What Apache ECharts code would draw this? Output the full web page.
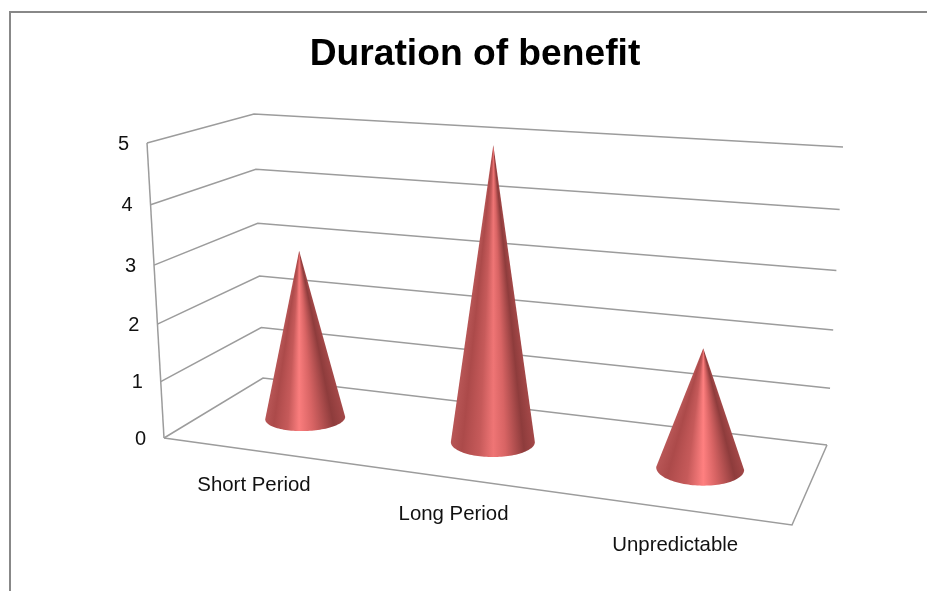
<!DOCTYPE html>
<html>
<head>
<meta charset="utf-8">
<style>html,body{margin:0;padding:0;background:#fff;overflow:hidden}#chart{width:927px;height:591px}</style>
<script src="https://cdn.jsdelivr.net/npm/echarts@6/dist/echarts.min.js"></script>
</head>
<body>
<div id="chart"></div>
<script>
// Chart contents
const categories = ['Short Period', 'Long Period', 'Unpredictable'];
const durationValues = [3, 5, 2];
const valueTicks = [0, 1, 2, 3, 4, 5];
const chartTitle = 'Duration of benefit';

// Box corners on screen: floor and top plane, as [front-left, front-right, back-right, back-left]
const floorQuad = [[164, 438], [792, 525], [827, 445], [263, 378]];
const topQuad = [[147, 143], [810, 186], [843, 147], [254, 114]];
const heightBias = 1.06;
const lineColor = '#9c9c9c';
const fontFamily = '"Liberation Sans", Arial, sans-serif';
// Cone surface shading across its width; the middle stop sits under the tip
const coneStops = [
  [0.00, '#b85656'], [0.14, '#ac4a4a'], [0.34, '#c65a5a'], [0.50, '#ff8080'],
  [0.64, '#d86464'], [0.86, '#8e3c3c'], [1.00, '#a44848']
];
const coneGlow = [0.92, 0.72, 1.0];

// Projective map from the unit square onto a quadrilateral
function quadMap(q) {
  const [[x0, y0], [x1, y1], [x2, y2], [x3, y3]] = q;
  const dx1 = x1 - x2, dx2 = x3 - x2, sx = x0 - x1 + x2 - x3;
  const dy1 = y1 - y2, dy2 = y3 - y2, sy = y0 - y1 + y2 - y3;
  const det = dx1 * dy2 - dx2 * dy1;
  const g = (sx * dy2 - dx2 * sy) / det;
  const h = (dx1 * sy - sx * dy1) / det;
  const a = x1 - x0 + g * x1, b = x3 - x0 + h * x3;
  const d = y1 - y0 + g * y1, e = y3 - y0 + h * y3;
  return (u, v) => {
    const w = g * u + h * v + 1;
    return [(a * u + b * v + x0) / w, (d * u + e * v + y0) / w];
  };
}
const floorAt = quadMap(floorQuad);
const topAt = quadMap(topQuad);

// u: along the categories, depth: front to back, t: fraction of the value axis
function project(u, depth, t) {
  const f = floorAt(u, depth), p = topAt(u, depth);
  const s = t / (t + (1 - t) * heightBias);
  return [f[0] + (p[0] - f[0]) * s, f[1] + (p[1] - f[1]) * s];
}

// Reads the axis scales and returns unit fractions for a data point
function fractions(api, params, cat, val) {
  const c = api.coord([cat, val]);
  const r = params.coordSys;
  return [(c[0] - r.x) / r.width, (r.y + r.height - c[1]) / r.height];
}

function renderWall(params, api) {
  const tick = api.value(0);
  const t = fractions(api, params, 0, tick)[1];
  const children = [{
    type: 'polyline',
    shape: { points: [project(0, 0, t), project(0, 1, t), project(1, 1, t)] },
    style: { stroke: lineColor, lineWidth: 1.5, fill: null }
  }];
  if (tick === valueTicks[0]) {
    children.push({
      type: 'polyline',
      shape: { points: [project(0, 0, 0), project(1, 0, 0), project(1, 1, 0)] },
      style: { stroke: lineColor, lineWidth: 1.5, fill: null }
    });
  }
  if (tick === valueTicks[valueTicks.length - 1]) {
    const a = project(0, 0, 0), b = project(0, 0, 1);
    children.push({
      type: 'line',
      shape: { x1: a[0], y1: a[1], x2: b[0], y2: b[1] },
      style: { stroke: lineColor, lineWidth: 1.5 }
    });
  }
  const anchor = project(0, 0, t);
  children.push({
    type: 'text',
    style: {
      x: anchor[0] - 18, y: anchor[1] + 1, text: String(tick), align: 'right', verticalAlign: 'middle',
      fontFamily, fontSize: 20, fill: '#111'
    }
  });
  return { type: 'group', children };
}

function renderCone(params, api) {
  const cat = api.value(0), val = api.value(1);
  const u = fractions(api, params, cat, 0)[0];
  const t = fractions(api, params, cat, val)[1];
  const foot = project(u, 0.5, 0), apex = project(u, 0.5, t);
  const c = [foot[0] + 1.5, foot[1] + 0.6];
  const rx = 40 + 6 * (u - 1 / 6), ry = 13 + 6 * (u - 1 / 6);
  const tilt = (u - 0.5) * 0.1;
  const rim = a => {
    const x = rx * Math.cos(a), y = ry * Math.sin(a);
    return [c[0] + x * Math.cos(tilt) - y * Math.sin(tilt), c[1] + x * Math.sin(tilt) + y * Math.cos(tilt)];
  };
  const outline = [apex];
  for (let i = 0; i <= 60; i++) outline.push(rim(Math.PI - Math.PI * i / 60));

  // Shading stops, bent so the bright band runs straight down from the tip
  const limbL = rim(Math.PI), limbR = rim(0);
  const peak = (apex[0] - limbL[0]) / (limbR[0] - limbL[0]);
  const stops = coneStops.map(([p, color]) => ({
    offset: p <= 0.5 ? p / 0.5 * peak : peak + (p - 0.5) / 0.5 * (1 - peak),
    color: p === 0.5 ? echarts.color.lerp(coneGlow[cat], ['#c65a5a', color]) : color
  }));

  // One pixel-tall rows whose gradient widens with the distance from the tip
  const bottom = Math.ceil(c[1] + ry + 4);
  const span = c[1] - apex[1];
  const rows = [];
  for (let y = Math.floor(apex[1]); y < bottom; y++) {
    const s = Math.max(0.002, (y + 0.5 - apex[1]) / span);
    const x0 = apex[0] + (limbL[0] - apex[0]) * s;
    const x1 = apex[0] + (limbR[0] - apex[0]) * s;
    rows.push({
      type: 'rect',
      shape: { x: Math.floor(Math.min(x0, limbL[0])) - 3, y, width: rx * 2 + 12, height: 1 },
      style: { fill: new echarts.graphic.LinearGradient(x0, 0, x1, 0, stops, true) }
    });
  }
  return {
    type: 'group',
    clipPath: { type: 'polygon', shape: { points: outline } },
    children: rows
  };
}

function renderCategoryLabel(params, api) {
  const cat = api.value(0);
  const u = fractions(api, params, cat, 0)[0];
  const p = project(u, 0, 0);
  return {
    type: 'text',
    style: {
      x: p[0] - 2.5 + 6 * u, y: p[1] + 34 + 4 * u, text: categories[cat], align: 'center', verticalAlign: 'middle',
      fontFamily, fontSize: 20.4, fill: '#111'
    }
  };
}

const chart = echarts.init(document.getElementById('chart'), null, { renderer: 'canvas' });
chart.setOption({
  animation: false,
  backgroundColor: '#fff',
  title: {
    text: chartTitle, left: 470, top: 31, textAlign: 'center',
    textStyle: { fontFamily, fontSize: 37.2, fontWeight: 'bold', color: '#000' }
  },
  graphic: [{
    type: 'rect', shape: { x: 10, y: 12, width: 1200, height: 900 },
    style: { fill: null, stroke: '#888', lineWidth: 2 }, silent: true
  }],
  grid: { left: 164, top: 143, width: 628, height: 295 },
  xAxis: { type: 'category', data: categories, show: false },
  yAxis: { type: 'value', min: 0, max: 5, interval: 1, show: false },
  series: [
    { type: 'custom', name: 'walls', coordinateSystem: 'cartesian2d', data: valueTicks.map(v => [v]), encode: { y: 0 }, renderItem: renderWall, z: 1, clip: false },
    { type: 'custom', name: 'Duration', coordinateSystem: 'cartesian2d', data: durationValues.map((v, i) => [i, v]), encode: { x: 0, y: 1 }, renderItem: renderCone, z: 2, clip: false },
    { type: 'custom', name: 'labels', coordinateSystem: 'cartesian2d', data: categories.map((c, i) => [i]), encode: { x: 0 }, renderItem: renderCategoryLabel, z: 3, clip: false }
  ]
});
</script>
</body>
</html>
